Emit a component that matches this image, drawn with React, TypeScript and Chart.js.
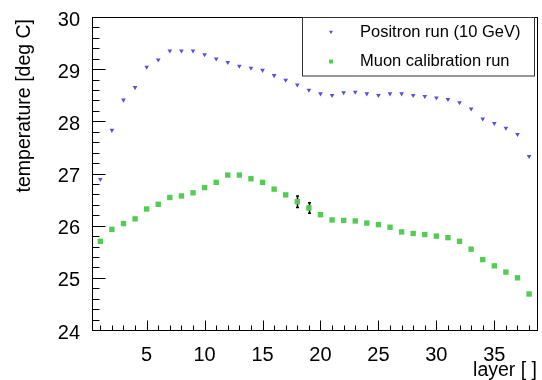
import React, { useEffect, useRef } from 'react';
import { Chart, registerables } from 'chart.js';

Chart.register(...registerables);

// ---- data ----
const layers = [1, 2, 3, 4, 5, 6, 7, 8, 9, 10, 11, 12, 13, 14, 15, 16, 17, 18, 19, 20, 21, 22, 23, 24, 25, 26, 27, 28, 29, 30, 31, 32, 33, 34, 35, 36, 37, 38];
const positronTemp = [26.89, 27.83, 28.41, 28.65, 29.04, 29.18, 29.35, 29.35, 29.35, 29.28, 29.2, 29.13, 29.06, 29.02, 28.98, 28.88, 28.79, 28.7, 28.6, 28.53, 28.5, 28.55, 28.56, 28.53, 28.5, 28.53, 28.53, 28.5, 28.48, 28.45, 28.42, 28.36, 28.24, 28.05, 27.96, 27.87, 27.75, 27.33];
const muonTemp = [25.7, 25.93, 26.04, 26.13, 26.32, 26.41, 26.54, 26.57, 26.63, 26.73, 26.83, 26.97, 26.97, 26.9, 26.83, 26.7, 26.59, 26.46, 26.34, 26.21, 26.11, 26.1, 26.09, 26.05, 26.02, 25.97, 25.88, 25.85, 25.83, 25.8, 25.77, 25.7, 25.55, 25.35, 25.23, 25.11, 25.0, 24.69];
const muonErrLayers = [18, 19];
const muonErrValues = [0.11, 0.1];
const xTickValues = [5, 10, 15, 20, 25, 30, 35];
const yTickValues = [24, 25, 26, 27, 28, 29, 30];
const xMinorStep = 1;
const yMinorStep = 0.2;
const xMin = 0.37;
const xMax = 38.77;
const yMin = 24;
const yMax = 30;
const seriesLabels = ['Positron run (10 GeV)', 'Muon calibration run'];
const xTitle = 'layer [ ]';
const yTitle = 'temperature [deg C]';

// ---- style ----
const FONT = '"Liberation Sans", Arial, Helvetica, sans-serif';
const BLUE = '#5252dc';
const GREEN = '#52cc52';

function drawTriangleDown(ctx: CanvasRenderingContext2D, x: number, y: number, r: number) {
  ctx.beginPath();
  ctx.moveTo(x, y + r);
  ctx.lineTo(x - r * 0.866, y - r * 0.5);
  ctx.lineTo(x + r * 0.866, y - r * 0.5);
  ctx.closePath();
  ctx.fill();
}

const rootPlugin = {
  id: 'rootStyle',
  beforeDatasetsDraw(chart: any) {
    const ctx = chart.ctx as CanvasRenderingContext2D;
    const xs = chart.scales.x;
    const ys = chart.scales.y;
    ctx.save();
    ctx.strokeStyle = '#000';
    ctx.lineWidth = 1.5;
    muonErrLayers.forEach((l, i) => {
      const idx = layers.indexOf(l);
      const v = muonTemp[idx];
      const e = muonErrValues[i];
      const px = Math.round(xs.getPixelForValue(l)) + 0.5;
      const y1 = ys.getPixelForValue(v + e);
      const y2 = ys.getPixelForValue(v - e);
      ctx.beginPath();
      ctx.moveTo(px, y1);
      ctx.lineTo(px, y2);
      ctx.stroke();
      ctx.beginPath();
      ctx.moveTo(px - 1.5, y1);
      ctx.lineTo(px + 1.5, y1);
      ctx.moveTo(px - 1.5, y2);
      ctx.lineTo(px + 1.5, y2);
      ctx.stroke();
    });
    ctx.restore();
  },
  afterDraw(chart: any) {
    const ctx = chart.ctx as CanvasRenderingContext2D;
    const { left, right, top, bottom } = chart.chartArea;
    const xs = chart.scales.x;
    const ys = chart.scales.y;
    ctx.save();
    // frame
    ctx.strokeStyle = '#000';
    ctx.lineWidth = 1;
    ctx.strokeRect(left - 0.5, top + 0.5, right - left, bottom - top);
    // x ticks (inward)
    ctx.beginPath();
    for (let v = Math.ceil(xMin); v <= xMax; v += xMinorStep) {
      const px = Math.round(xs.getPixelForValue(v)) + 0.5;
      const len = xTickValues.includes(v) ? 10 : 5;
      ctx.moveTo(px, bottom + 0.5);
      ctx.lineTo(px, bottom + 0.5 - len);
    }
    // y ticks (inward)
    const nMinor = Math.round((yMax - yMin) / yMinorStep);
    for (let k = 0; k <= nMinor; k++) {
      const v = yMin + k * yMinorStep;
      const py = Math.round(ys.getPixelForValue(v)) + 0.5;
      const major = k % 5 === 0;
      const len = major ? 13 : 7;
      ctx.moveTo(left - 0.5, py);
      ctx.lineTo(left - 0.5 + len, py);
    }
    ctx.stroke();

    // axis titles
    ctx.fillStyle = '#000';
    ctx.font = `19.5px ${FONT}`;
    ctx.textAlign = 'right';
    ctx.textBaseline = 'alphabetic';
    ctx.fillText(xTitle, right - 1, 376);
    ctx.save();
    ctx.translate(30, top + 2);
    ctx.rotate(-Math.PI / 2);
    ctx.textAlign = 'right';
    ctx.fillText(yTitle, 0, 0);
    ctx.restore();

    // legend
    const lx = 302.5, ly = 17.5, lw = 232, lh = 58.5;
    ctx.fillStyle = '#fff';
    ctx.fillRect(lx, ly, lw, lh);
    ctx.strokeStyle = '#333';
    ctx.lineWidth = 1;
    ctx.strokeRect(lx, ly, lw, lh);
    ctx.font = `16.5px ${FONT}`;
    ctx.textAlign = 'left';
    ctx.textBaseline = 'middle';
    ctx.fillStyle = '#000';
    ctx.fillText(chart.data.datasets[0].label, 360, 32);
    ctx.fillText(chart.data.datasets[1].label, 360, 61.5);
    ctx.fillStyle = chart.data.datasets[0].pointBackgroundColor;
    drawTriangleDown(ctx, 331, 32, 2.3);
    ctx.fillStyle = chart.data.datasets[1].pointBackgroundColor;
    ctx.fillRect(329, 59.5, 4, 4);
    ctx.restore();
  },
};

export default function App() {
  const canvasRef = useRef<HTMLCanvasElement | null>(null);

  useEffect(() => {
    if (!canvasRef.current) return;
    const chart = new Chart(canvasRef.current, {
      type: 'scatter',
      data: {
        datasets: [
          {
            label: seriesLabels[0],
            data: layers.map((l, i) => ({ x: l, y: positronTemp[i] })),
            pointStyle: 'triangle',
            pointRotation: 180,
            pointRadius: 2.7,
            pointBackgroundColor: BLUE,
            pointBorderWidth: 0,
            showLine: false,
          },
          {
            label: seriesLabels[1],
            data: layers.map((l, i) => ({ x: l, y: muonTemp[i] })),
            pointStyle: 'rect',
            pointRadius: 3.8,
            pointBackgroundColor: GREEN,
            pointBorderWidth: 0,
            showLine: false,
          },
        ],
      } as any,
      options: {
        responsive: false,
        animation: false,
        devicePixelRatio: 1,
        layout: { padding: { left: 0, right: 1, top: 13, bottom: 0 } },
        plugins: {
          legend: { display: false },
          tooltip: { enabled: false },
        },
        scales: {
          x: {
            type: 'linear',
            min: xMin,
            max: xMax,
            grid: { display: false },
            border: { display: false },
            afterBuildTicks: (s: any) => {
              s.ticks = xTickValues.map((v) => ({ value: v }));
            },
            afterFit: (s: any) => {
              s.height = 50;
            },
            ticks: {
              font: { family: FONT, size: 20 },
              color: '#000',
              padding: 5,
              maxRotation: 0,
              autoSkip: false,
              callback: (v: any) => String(v),
            },
          },
          y: {
            type: 'linear',
            min: yMin,
            max: yMax,
            grid: { display: false },
            border: { display: false },
            afterBuildTicks: (s: any) => {
              s.ticks = yTickValues.map((v) => ({ value: v }));
            },
            afterFit: (s: any) => {
              s.width = 93;
            },
            ticks: {
              font: { family: FONT, size: 20 },
              color: '#000',
              padding: 5,
              labelOffset: 3,
              autoSkip: false,
              callback: (v: any) => String(v),
            },
          },
        },
      } as any,
      plugins: [rootPlugin],
    });
    return () => chart.destroy();
  }, []);

  return (
    <div style={{ position: 'fixed', left: 0, top: 0, width: 542, height: 380, background: '#fff' }}>
      <canvas ref={canvasRef} width={542} height={380} style={{ display: 'block' }} />
    </div>
  );
}
